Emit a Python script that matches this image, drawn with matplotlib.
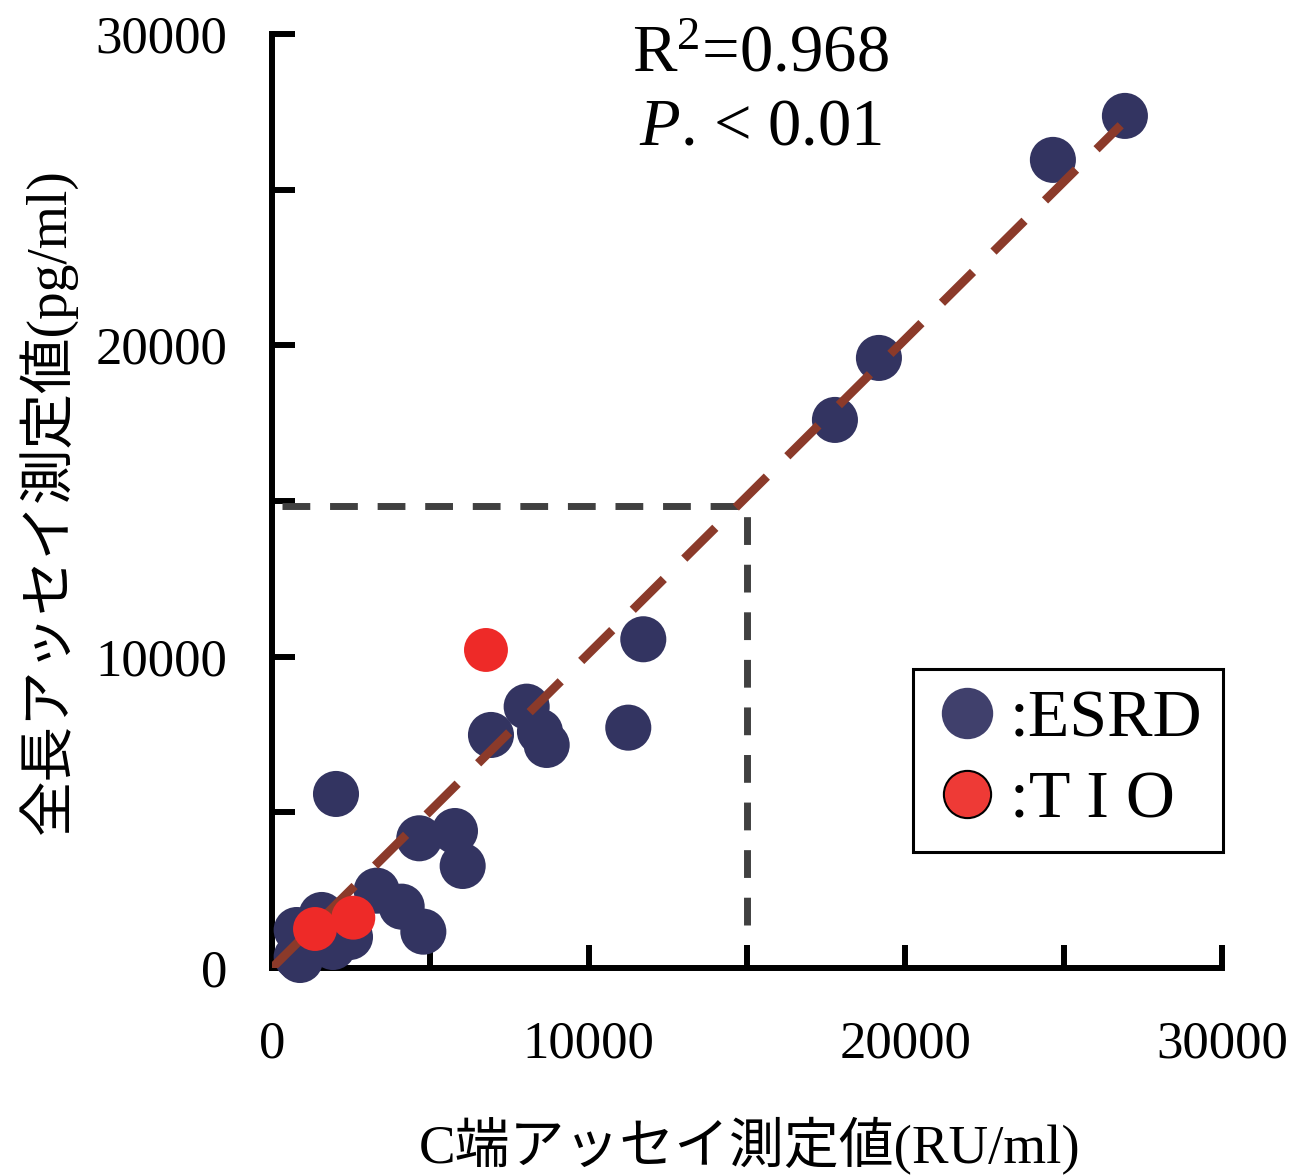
import matplotlib
matplotlib.use("Agg")
import matplotlib.pyplot as plt
from matplotlib.lines import Line2D
from matplotlib.ticker import MultipleLocator

plt.rcParams["font.family"] = ["Liberation Serif", "Noto Sans CJK JP"]
plt.rcParams["mathtext.fontset"] = "custom"
plt.rcParams["mathtext.rm"] = "Liberation Serif"
plt.rcParams["mathtext.it"] = "Liberation Serif:italic"

# ESRD patients: C-terminal assay (RU/ml) vs full-length assay (pg/ml)
esrd_x = [26934, 24660, 19166, 17777, 11725, 11251, 8042, 6915, 8462, 8674,
          2021, 4651, 5778, 6021, 3305, 4095, 4779, 1569, 779, 779, 884,
          1926, 2463, 2147]
esrd_y = [27369, 25956, 19595, 17604, 10559, 7720, 8394, 7485, 7591, 7164,
          5590, 4166, 4400, 3277, 2484, 1970, 1167, 1703, 1220, 364, 257,
          675, 996, 1006]

# TIO patients
tio_x = [6757, 1358, 2568]
tio_y = [10215, 1253, 1616]

fit_slope = 1.01
fit_x_end = 26800
ref_x = 15000
ref_y = 14850

NAVY = "#333461"
RED = "#EE2A28"
BROWN = "#8B3A2A"
GRAY = "#404040"

fig = plt.figure(figsize=(13.06, 11.76), dpi=100)
ax = fig.add_axes([272 / 1306, (1176 - 968) / 1176, 950 / 1306, 934 / 1176])

ax.set_xlim(0, 30000)
ax.set_ylim(0, 30000)
for side in ["top", "right"]:
    ax.spines[side].set_visible(False)
for side in ["left", "bottom"]:
    ax.spines[side].set_linewidth(4.3)
    ax.spines[side].set_zorder(1)

ax.xaxis.set_major_locator(MultipleLocator(10000))
ax.xaxis.set_minor_locator(MultipleLocator(5000))
ax.yaxis.set_major_locator(MultipleLocator(10000))
ax.yaxis.set_minor_locator(MultipleLocator(5000))
ax.tick_params(which="both", direction="in", length=16.5, width=4.3)
ax.tick_params(axis="y", which="major", labelsize=38, pad=32)
ax.tick_params(axis="x", which="major", labelsize=38, pad=38)

# reference lines at 15000
ax.plot([300, ref_x], [ref_y, ref_y], color=GRAY, lw=5, dashes=(4, 2.85), zorder=2)
ax.plot([ref_x, ref_x], [1380, ref_y - 200], color=GRAY, lw=5, dashes=(4, 2.85), zorder=2)

ax.scatter(esrd_x, esrd_y, s=1100, color=NAVY, edgecolors="none", zorder=3, clip_on=False)
ax.plot([0, fit_x_end], [0, fit_slope * fit_x_end], color=BROWN, lw=6.3,
        dashes=(5.0, 3.3), solid_capstyle="butt", dash_capstyle="butt", zorder=4)
ax.scatter(tio_x, tio_y, s=1000, color=RED, edgecolors="none", zorder=5, clip_on=False)

ax.text(0.514, 0.9775, "R$^{2}$=0.968", transform=ax.transAxes, fontsize=48,
        ha="center", va="center")
ax.text(0.514, 0.899, "$\\mathit{P}$. < 0.01", transform=ax.transAxes, fontsize=48,
        ha="center", va="center")

ax.set_xlabel("C端アッセイ測定値(RU/ml)", fontsize=39.5)
ax.set_ylabel("全長アッセイ測定値(pg/ml)", fontsize=40)
ax.xaxis.set_label_coords(0.503, -0.16)
ax.yaxis.set_label_coords(-0.205, 0.50)

handles = [
    Line2D([], [], marker="o", linestyle="none", markersize=37,
           markerfacecolor="#40406C", markeredgecolor="none"),
    Line2D([], [], marker="o", linestyle="none", markersize=34,
           markerfacecolor="#EE3A36", markeredgecolor="black", markeredgewidth=1.5),
]
leg = ax.legend(handles, [":ESRD", ":T I O"], loc="lower left",
                bbox_to_anchor=(0.6747, 0.1242), fontsize=49, frameon=True,
                fancybox=False, edgecolor="black", framealpha=1,
                handlelength=1.0, handletextpad=0.12, borderpad=0.3,
                labelspacing=0.28, borderaxespad=0)
leg.get_frame().set_linewidth(2.2)

fig.savefig("out.png", dpi=100)
